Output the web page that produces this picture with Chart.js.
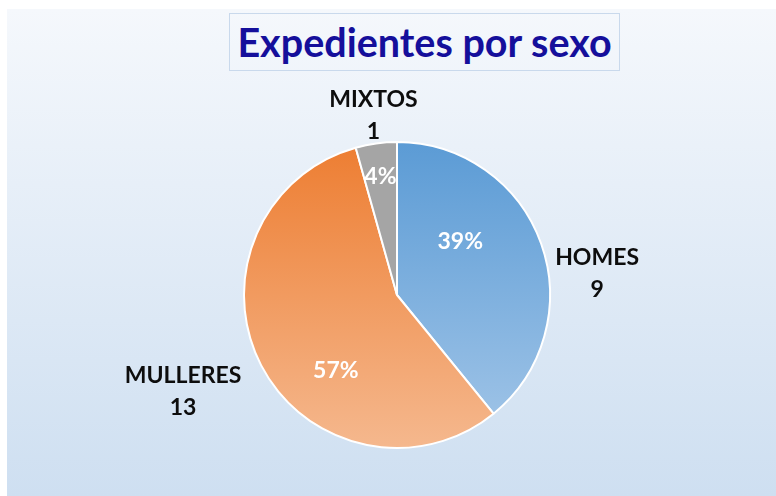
<!DOCTYPE html>
<html>
<head>
<meta charset="utf-8">
<script src="https://cdn.jsdelivr.net/npm/chart.js@4/dist/chart.umd.min.js"></script>
<style>
  html, body { margin: 0; padding: 0; background: #ffffff; }
  body { width: 776px; height: 496px; position: relative; overflow: hidden; }
  #bg { position: absolute; left: 7px; top: 9px; right: 0; bottom: 0;
        background: linear-gradient(to bottom, #F5F8FC 0%, #CEDFF1 100%); }
  #title { position: absolute; left: 229px; top: 13px; width: 389px; height: 56px;
           border: 1.5px solid #C9D9EC; box-sizing: content-box;
           font-family: Lato, "Open Sans", sans-serif; font-weight: bold; font-size: 39.5px;
           color: #150F9B; text-align: center; line-height: 56px; letter-spacing: 0px; }
  #wrap { position: absolute; left: 0; top: 0; width: 776px; height: 496px; }
</style>
</head>
<body>
<div id="bg"></div>
<div id="title">Expedientes por sexo</div>
<div id="wrap"><canvas id="c" width="776" height="496"></canvas></div>
<script>
// ---- data ----
const categories = ['HOMES', 'MULLERES', 'MIXTOS'];
const values = [9, 13, 1];
const percentLabels = ['39%', '57%', '4%'];

// ---- styling / layout (not data) ----
const topColors = ['#5B9BD5', '#ED7D31', '#A5A5A5'];
const bottomColors = ['#A3C6E8', '#F5B88E', '#A5A5A5'];
// label placement in polar terms relative to each arc's centre/outer radius
const pctPlace = [{a: -40, f: 0.54}, {a: 129, f: 0.635}, {a: 262, f: 0.78}];
const namePlace = [{a: -6, f: 1.315}, {a: 155.8, f: 1.533}, {a: 262.5, f: 1.18}];
const LABEL_FONT = 'bold 23px Lato, "Open Sans", sans-serif';
const LINE_GAP = 32;

function grad(ctx, i) {
  const chart = ctx.chart;
  const a = chart.chartArea;
  if (!a) return topColors[i];
  const g = chart.ctx.createLinearGradient(0, a.top, 0, a.bottom);
  g.addColorStop(0, topColors[i]);
  g.addColorStop(1, bottomColors[i]);
  return g;
}

const labelPlugin = {
  id: 'labels',
  afterDatasetsDraw(chart) {
    const ctx = chart.ctx;
    const meta = chart.getDatasetMeta(0);
    ctx.save();
    ctx.font = LABEL_FONT;
    ctx.textAlign = 'center';
    ctx.textBaseline = 'middle';
    meta.data.forEach((arc, i) => {
      const r = arc.outerRadius;
      const p = pctPlace[i];
      const pa = p.a * Math.PI / 180;
      ctx.fillStyle = '#FFFFFF';
      ctx.fillText(percentLabels[i], arc.x + Math.cos(pa) * r * p.f, arc.y + Math.sin(pa) * r * p.f);
      const n = namePlace[i];
      const na = n.a * Math.PI / 180;
      const cx = arc.x + Math.cos(na) * r * n.f;
      const cy = arc.y + Math.sin(na) * r * n.f;
      ctx.fillStyle = '#0D0D0D';
      ctx.fillText(categories[i], cx, cy - LINE_GAP / 2);
      ctx.fillText(String(values[i]), cx, cy + LINE_GAP / 2);
    });
    ctx.restore();
  }
};

new Chart(document.getElementById('c'), {
  type: 'pie',
  data: {
    labels: categories,
    datasets: [{
      data: values,
      backgroundColor: (ctx) => grad(ctx, ctx.dataIndex),
      borderColor: '#FFFFFF',
      borderWidth: 2,
      hoverOffset: 0
    }]
  },
  options: {
    responsive: false,
    animation: false,
    layout: { padding: { left: 243, right: 225, top: 141, bottom: 47 } },
    plugins: { legend: { display: false }, tooltip: { enabled: false }, title: { display: false } }
  },
  plugins: [labelPlugin]
});
</script>
</body>
</html>
